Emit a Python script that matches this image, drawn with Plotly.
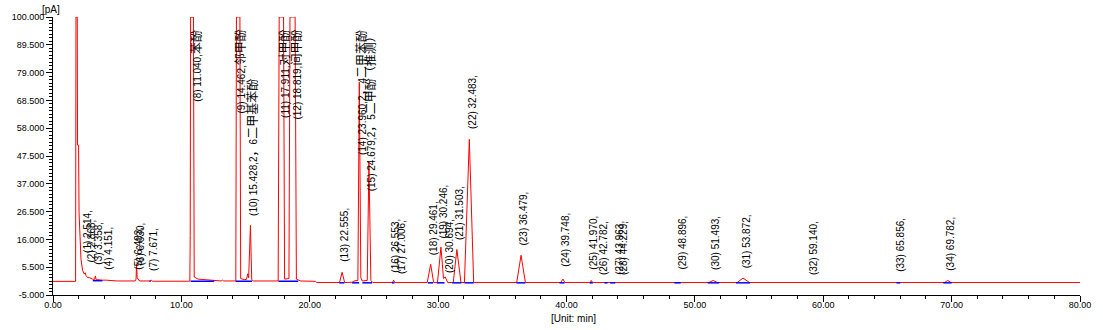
import plotly.graph_objects as go

# ---- chromatogram trace ----
time_min = [0.00, 1.76, 1.79, 1.89, 1.91, 1.99, 2.03, 2.10, 2.18, 2.31, 2.44, 2.51, 2.56, 2.69, 2.87,
            3.08, 3.24, 3.30, 3.36, 3.85, 4.15, 5.00, 6.40, 6.47, 6.51, 6.56, 6.64, 6.75, 7.60, 7.67,
            7.74, 10.66, 10.69, 10.72, 10.94, 11.00, 11.30, 12.50, 13.10, 13.20, 13.30, 14.24, 14.29,
            14.56, 14.62, 14.90, 15.08, 15.16, 15.24, 15.38, 15.48, 15.60, 17.54, 17.62, 17.96, 18.04,
            18.38, 18.46, 18.86, 18.96, 19.30, 20.45, 20.55, 22.32, 22.52, 22.72, 23.30, 23.45, 23.62,
            23.75, 23.86, 23.98, 24.10, 24.48, 24.61, 24.76, 24.90, 26.45, 26.53, 26.62, 29.15, 29.42,
            29.65, 29.95, 30.22, 30.42, 30.55, 30.75, 31.18, 31.46, 31.78, 32.05, 32.43, 32.77, 36.12,
            36.46, 36.80, 39.55, 39.72, 39.88, 41.85, 41.93, 42.02, 51.10, 51.42, 51.75, 53.30, 53.75,
            54.25, 69.45, 69.70, 69.95, 80.00]
signal_pa = [0.15, 0.15, 100, 100, 51.6, 51.6, 26.0, 14.0, 8.5, 4.2, 2.9, 3.4, 2.4, 1.6, 1.5,
             1.0, 0.9, 2.2, 0.8, 0.6, 0.6, 0.3, 0.3, 1.0, 6.6, 1.5, 1.0, 0.3, 0.3, 0.6,
             0.2, 0.2, 17.5, 100, 100, 1.8, 1.0, 0.5, 0.3, 0.6, 0.3, 0.3, 100,
             100, 1.2, 0.8, 0.9, 3.0, 1.5, 21.3, 0.8, 0.3, 0.3, 100, 100, 1.0,
             1.2, 100, 100, 1.0, 0.3, 0.15, -0.3, -0.3, 3.6, -0.3, -0.2, 0.3, 0.3,
             0.5, 75.4, 1.5, 0.3, 0.5, 44.9, 0.5, -0.3, -0.3, 0.6, -0.3, -0.3, 6.6,
             -0.3, -0.3, 13.1, 1.2, 1.8, -0.3, -0.3, 12.2, -0.3, -0.3, 53.8, -0.3, -0.3,
             10.0, -0.3, -0.3, 1.0, -0.3, -0.3, 0.5, -0.3, -0.3, 0.5, -0.3, -0.3, 1.4,
             -0.3, -0.3, 0.5, -0.3, -0.3]

# ---- integration baselines (blue) ----
base_start = [3.10, 7.52, 10.72, 14.23, 17.56, 22.30, 23.30, 24.10, 26.40, 29.20, 29.90, 31.10, 32.05,
              36.10, 39.45, 41.80, 42.95, 43.40, 48.40, 51.00, 53.20, 65.70, 69.35]
base_end = [3.85, 7.62, 12.56, 15.51, 19.10, 22.70, 23.85, 24.85, 26.60, 29.60, 30.50, 31.80, 32.77,
            36.80, 39.85, 42.05, 43.20, 43.80, 48.90, 51.90, 54.30, 66.00, 70.00]
base_level = [0.4, 0.3, 0.2, 0.2, 0.2, -0.4, -0.4, -0.4, -0.4, -0.4, -0.4, -0.4, -0.4,
              -0.4, -0.4, -0.4, -0.4, -0.4, -0.4, -0.4, -0.4, -0.4, -0.4]

# ---- peak labels ----
peak_no = list(range(1, 35))
peak_rt = ["2.514", "2.868", "3.358", "4.151", "6.493", "6.630", "7.671", "11.040", "14.462",
           "15.428", "17.911", "18.819", "22.555", "23.960", "24.679", "26.553", "27.006",
           "29.461", "30.246", "30.694", "31.503", "32.483", "36.479", "39.748", "41.970",
           "42.782", "43.963", "44.229", "48.896", "51.493", "53.872", "59.140", "65.856", "69.782"]
peak_name = ["", "", "", "", "", "", "", "苯酚", "邻甲酚", "2，6二甲基苯酚", "对甲酚", "间甲酚", "",
             "2，4二甲苯酚", "2，5二甲酚（推测）", "", "", "", "", "", "", "", "", "", "", "", "", "",
             "", "", "", "", "", ""]
peak_height = [7.4, 4.0, 2.9, 1.1, 1.1, 2.6, 0.7, 300, 300, 21.3, 300, 300, 4.0, 75.4, 44.9,
               0.0, -0.6, 6.7, 13.0, -0.1, 12.5, 54.3, 10.4, 2.4, 1.1, -0.8, -0.6, -0.9,
               1.1, 1.1, 1.5, -0.8, 0.5, 0.7]

x_ticks = [0, 10, 20, 30, 40, 50, 60, 70, 80]
y_ticks = [-5.0, 5.5, 16.0, 26.5, 37.0, 47.5, 58.0, 68.5, 79.0, 89.5, 100.0]

# ---- layout geometry ----
W, H = 1103, 330
ML, MR, MT, MB = 50, 13, 16, 35
Y0, Y1 = -5, 100
px_per_unit = (H - MT - MB) / (Y1 - Y0)
TOP_LIMIT_PX = 12  # label top never above this many px below plot top
CJK_SIZE = 12

FONT = "Liberation Sans, Arial, Noto Sans CJK SC, sans-serif"


def is_wide(ch):
    return ord(ch) > 0x2E80


def text_px(s, size=10):
    w = 0.0
    for ch in s:
        if is_wide(ch):
            w += CJK_SIZE
        elif ch in "(),.:; ":
            w += 0.3 * size
        else:
            w += 0.556 * size
    return w


def markup(s):
    out, run = "", ""
    for ch in s:
        if is_wide(ch):
            run += ch
        else:
            if run:
                out += f'<span style="font-size:{CJK_SIZE}px">{run}</span>'
                run = ""
            out += ch
    if run:
        out += f'<span style="font-size:{CJK_SIZE}px">{run}</span>'
    return out


fig = go.Figure()
fig.add_trace(go.Scatter(x=time_min, y=signal_pa, mode="lines",
                         line=dict(color="#ff0000", width=1), hoverinfo="skip"))
bx, by = [], []
for s, e, lv in zip(base_start, base_end, base_level):
    bx += [s, e, None]
    by += [lv, lv, None]
fig.add_trace(go.Scatter(x=bx, y=by, mode="lines",
                         line=dict(color="#0000ff", width=1.5), hoverinfo="skip"))

annotations = []
for n, rt, nm, h in zip(peak_no, peak_rt, peak_name, peak_height):
    txt = f"({n}) {rt},{nm}"
    L = text_px(txt)
    h_clip = min(h, Y1)
    bottom_px_from_top = (Y1 - h_clip) * px_per_unit - 8
    if bottom_px_from_top - L < TOP_LIMIT_PX:
        y = Y1 - TOP_LIMIT_PX / px_per_unit
        ya, ys = "top", 0
    else:
        y = h_clip
        ya, ys = "bottom", 8
    annotations.append(dict(x=float(rt), y=y, xref="x", yref="y", text=markup(txt), textangle=-90,
                            showarrow=False, xanchor="center", yanchor=ya, yshift=ys, xshift=2,
                            borderpad=0, font=dict(family=FONT, size=10, color="black")))

annotations.append(dict(x=0, y=1, xref="paper", yref="paper", text="[pA]", showarrow=False,
                        xanchor="center", yanchor="bottom", xshift=-2, yshift=1, borderpad=0,
                        font=dict(family=FONT, size=10, color="black")))
annotations.append(dict(x=0.5, y=0, xref="paper", yref="paper", text="[Unit: min]", showarrow=False,
                        xanchor="center", yanchor="top", yshift=-17, xshift=7, borderpad=0,
                        font=dict(family=FONT, size=10, color="black")))

fig.update_layout(
    width=W, height=H, margin=dict(l=ML, r=MR, t=MT, b=MB),
    paper_bgcolor="white", plot_bgcolor="white", showlegend=False,
    annotations=annotations,
    xaxis=dict(range=[0, 80], tickvals=x_ticks, ticktext=[f"{v:.2f}" for v in x_ticks],
               ticks="outside", ticklen=6, tickcolor="black", showline=True, linecolor="black",
               linewidth=1, showgrid=False, zeroline=False, ticklabelstandoff=-5,
               tickfont=dict(family=FONT, size=9, color="black"),
               minor=dict(dtick=2, tick0=0, ticks="outside", ticklen=3, tickcolor="black")),
    yaxis=dict(range=[Y0, Y1], tickvals=y_ticks, ticktext=[f"{v:.3f}" for v in y_ticks],
               ticks="outside", ticklen=6, tickcolor="black", showline=True, linecolor="black",
               linewidth=1, showgrid=False, zeroline=False,
               tickfont=dict(family=FONT, size=9, color="black"),
               minor=dict(dtick=1.3125, tick0=-5, ticks="outside", ticklen=3, tickcolor="black")),
)

fig.write_html("out.html")
